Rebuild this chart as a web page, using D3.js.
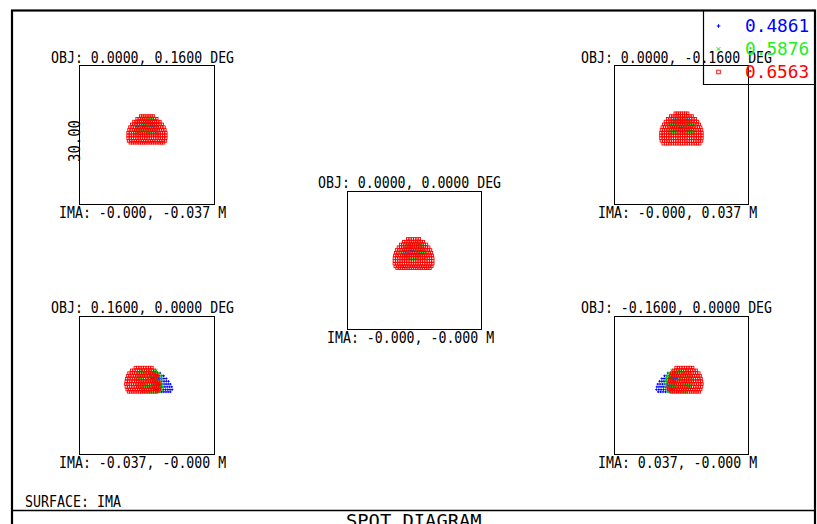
<!DOCTYPE html>
<html>
<head>
<meta charset="utf-8">
<script src="https://cdn.jsdelivr.net/npm/d3@7/dist/d3.min.js"></script>
<style>
  body { margin: 0; background: #fff; }
  text { font-family: "DejaVu Sans Mono", monospace; fill: #000; }
</style>
</head>
<body>
<script>
// field labels and image coordinates
var objLabels = ["OBJ: 0.0000, 0.1600 DEG", "OBJ: 0.0000, 0.0000 DEG", "OBJ: 0.0000, -0.1600 DEG",
                 "OBJ: 0.1600, 0.0000 DEG", "OBJ: -0.1600, 0.0000 DEG"];
var imaLabels = ["IMA: -0.000, -0.037 M", "IMA: -0.000, -0.000 M", "IMA: -0.000, 0.037 M",
                 "IMA: -0.037, -0.000 M", "IMA: 0.037, -0.000 M"];
var wavelengths = ["0.4861", "0.5876", "0.6563"];
var scaleLabel = "30.00";       // box width in microns
var boxSize = 30;

// spot outlines: [y, xLeft, xRight] in microns from box centre
// top left field (0, 0.16)
var spot0Blue = [[3.0,-1.6,1.8],[2.4,-2.0,2.2],[1.8,-2.2,2.3],[1.2,-2.2,2.3],[0.6,-2.0,2.1]];
var spot0Green = [[3.6,-1.0,1.2],[3.0,-1.8,2.0],[2.4,-2.3,2.4],[1.8,-2.5,2.6],[1.2,-2.6,2.7],[0.6,-2.6,2.7],[0.0,-2.5,2.6]];
var spot0Red = [[4.0,-1.3,1.5],[3.4,-2.1,2.3],[2.8,-2.8,3.0],[2.2,-3.3,3.5],[1.6,-3.7,3.9],[1.0,-3.9,4.1],
                [0.4,-4.1,4.3],[-0.2,-4.1,4.3],[-0.8,-4.1,4.3],[-1.4,-4.0,4.2],[-1.8,-3.6,3.8]];
// centre field (0, 0)
var spot1Blue = [[3.2,-1.4,1.4],[2.6,-2.0,2.0],[2.0,-2.2,2.1],[1.4,-2.2,2.1],[0.8,-2.0,1.9]];
var spot1Green = [[3.8,-0.9,0.9],[3.2,-1.8,1.8],[2.6,-2.3,2.3],[2.0,-2.6,2.5],[1.4,-2.7,2.6],[0.8,-2.7,2.6],[0.2,-2.6,2.5]];
var spot1Red = [[4.6,-1.4,1.2],[4.0,-2.3,2.1],[3.4,-3.0,2.8],[2.8,-3.5,3.3],[2.2,-3.9,3.7],[1.6,-4.1,3.9],
                [1.0,-4.3,4.1],[0.4,-4.4,4.2],[-0.2,-4.4,4.2],[-0.8,-4.4,4.2],[-1.4,-4.2,4.0],[-1.8,-3.8,3.6]];
// top right field (0, -0.16)
var spot2Blue = [[3.2,-1.4,1.6],[2.6,-2.0,2.2],[2.0,-2.2,2.4],[1.4,-2.2,2.4],[0.8,-2.0,2.2]];
var spot2Green = [[3.8,-1.0,1.2],[3.2,-1.9,2.1],[2.6,-2.4,2.6],[2.0,-2.7,2.9],[1.4,-2.8,3.0],[0.8,-2.8,3.0],[0.2,-2.7,2.9]];
var spot2Red = [[4.6,-1.3,1.5],[4.0,-2.3,2.5],[3.4,-3.0,3.2],[2.8,-3.5,3.7],[2.2,-3.9,4.1],[1.6,-4.2,4.4],
                [1.0,-4.4,4.6],[0.4,-4.5,4.7],[-0.2,-4.5,4.7],[-0.8,-4.5,4.7],[-1.4,-4.4,4.6],[-2.0,-4.0,4.2]];
// bottom left field (0.16, 0)
var spot3Blue = [[2.6,0.8,3.0],[2.0,1.0,3.8],[1.4,1.2,4.4],[0.8,1.4,4.9],[0.2,1.5,5.3],[-0.4,1.6,5.6],[-1.0,1.8,5.7],[-1.5,2.4,5.3]];
var spot3Green = [[3.2,-1.5,2.2],[2.6,-2.0,2.8],[2.0,-2.2,3.2],[1.4,-2.3,3.4],[0.8,-2.3,3.5],[0.2,-2.2,3.6],[-0.4,-2.0,3.6],[-1.0,-1.6,3.4],[-1.5,-1.0,3.0]];
var spot3Red = [[3.8,-2.5,1.2],[3.2,-3.3,1.8],[2.6,-3.9,2.2],[2.0,-4.2,2.4],[1.4,-4.4,2.6],[0.8,-4.5,2.7],
                [0.2,-4.6,2.9],[-0.4,-4.5,3.0],[-1.0,-4.3,2.8],[-1.5,-4.0,2.3]];
// bottom right field (-0.16, 0)
var spot4Blue = [[2.6,-2.9,-0.8],[2.0,-3.7,-1.0],[1.4,-4.3,-1.2],[0.8,-4.8,-1.4],[0.2,-5.2,-1.5],[-0.4,-5.4,-1.6],[-1.0,-5.5,-1.8],[-1.5,-5.1,-2.4]];
var spot4Green = [[3.2,-2.1,1.6],[2.6,-2.7,2.1],[2.0,-3.1,2.3],[1.4,-3.3,2.4],[0.8,-3.4,2.4],[0.2,-3.5,2.3],[-0.4,-3.5,2.1],[-1.0,-3.3,1.7],[-1.5,-2.9,1.1]];
var spot4Red = [[3.8,-1.1,2.6],[3.2,-1.7,3.4],[2.6,-2.1,4.0],[2.0,-2.3,4.3],[1.4,-2.5,4.5],[0.8,-2.6,4.6],
                [0.2,-2.8,4.7],[-0.4,-2.9,4.6],[-1.0,-2.7,4.4],[-1.5,-2.2,4.1]];

var spots = [[spot0Blue, spot0Green, spot0Red], [spot1Blue, spot1Green, spot1Red], [spot2Blue, spot2Green, spot2Red],
             [spot3Blue, spot3Green, spot3Red], [spot4Blue, spot4Green, spot4Red]];

// layout
var boxes = [
  {x0: 79,  x1: 214, y0: 65,  y1: 204, objX: 51,  objY: 63,  imaX: 59,  imaY: 218},
  {x0: 347, x1: 481, y0: 191, y1: 329, objX: 318, objY: 188, imaX: 327, imaY: 343},
  {x0: 614, x1: 748, y0: 65,  y1: 204, objX: 581, objY: 63,  imaX: 598, imaY: 218},
  {x0: 79,  x1: 214, y0: 316, y1: 454, objX: 51,  objY: 313, imaX: 59,  imaY: 468},
  {x0: 614, x1: 748, y0: 316, y1: 454, objX: 581, objY: 313, imaX: 598, imaY: 468}
];
var colors = ["#0000ff", "#00e000", "#ff0000"];
var pitch = 0.5;

var svg = d3.select("body").append("svg")
  .attr("width", 817)
  .attr("height", 524);

function label(x, y, s, size, cw, color) {
  return svg.append("text")
    .attr("x", x)
    .attr("y", y)
    .attr("font-size", size)
    .attr("textLength", s.length * cw)
    .attr("lengthAdjust", "spacingAndGlyphs")
    .style("fill", color || "#000")
    .text(s);
}

function symbol(g, w, px, py, s) {
  if (w == 0) {
    g.append("path").attr("d", "M" + (px - s) + "," + py + "H" + (px + s) + "M" + px + "," + (py - s) + "V" + (py + s))
      .attr("stroke", colors[0]).attr("stroke-width", 1).attr("fill", "none");
  } else if (w == 1) {
    g.append("path").attr("d", "M" + (px - s) + "," + (py - s) + "L" + (px + s) + "," + (py + s) +
                                "M" + (px - s) + "," + (py + s) + "L" + (px + s) + "," + (py - s))
      .attr("stroke", colors[1]).attr("stroke-width", 0.9).attr("fill", "none");
  } else {
    g.append("rect").attr("x", px - s).attr("y", py - s).attr("width", 2 * s).attr("height", 2 * s)
      .attr("stroke", colors[2]).attr("stroke-width", 0.9).attr("fill", "none");
  }
}

// outer frame
svg.append("rect")
  .attr("x", 12).attr("y", 10.5).attr("width", 803).attr("height", 540)
  .attr("fill", "none").attr("stroke", "#000").attr("stroke-width", 2.2);
svg.append("line")
  .attr("x1", 12).attr("x2", 815).attr("y1", 510.5).attr("y2", 510.5)
  .attr("stroke", "#000").attr("stroke-width", 1.3);

boxes.forEach(function(b, f) {
  var x = d3.scaleLinear().domain([-boxSize / 2, boxSize / 2]).range([b.x0, b.x1]);
  var y = d3.scaleLinear().domain([-boxSize / 2, boxSize / 2]).range([b.y1, b.y0]);

  svg.append("rect")
    .attr("x", b.x0 + 0.5).attr("y", b.y0 + 0.5)
    .attr("width", b.x1 - b.x0).attr("height", b.y1 - b.y0)
    .attr("fill", "none").attr("stroke", "#000").attr("stroke-width", 1);

  var g = svg.append("g");
  spots[f].forEach(function(rows, w) {
    rows.forEach(function(r) {
      var n = Math.max(1, Math.round((r[2] - r[1]) / pitch));
      for (var i = 0; i <= n; i++) {
        var xv = r[1] + i * (r[2] - r[1]) / n;
        symbol(g, w, x(xv), y(r[0]), 1.2);
      }
    });
  });

  label(b.objX, b.objY, objLabels[f], 16, 7.96);
  label(b.imaX, b.imaY, imaLabels[f], 16, 7.96);
});

// scale bar label
svg.append("text")
  .attr("transform", "translate(80,162) rotate(-90)")
  .attr("font-size", 16)
  .attr("textLength", 42)
  .attr("lengthAdjust", "spacingAndGlyphs")
  .text(scaleLabel);

// legend
svg.append("path")
  .attr("d", "M703.5,10V84.5H815")
  .attr("fill", "none").attr("stroke", "#000").attr("stroke-width", 1.2);
wavelengths.forEach(function(wl, i) {
  symbol(svg, i, 718.5, 26 + i * 23, 1.8);
  label(745, 32 + i * 23, wl, 18, 10.7, colors[i] == "#00e000" ? "#22ee22" : colors[i]);
});

label(25, 507, "SURFACE: IMA", 16, 8);
label(346, 527, "SPOT DIAGRAM", 17, 11.3);
</script>
</body>
</html>
